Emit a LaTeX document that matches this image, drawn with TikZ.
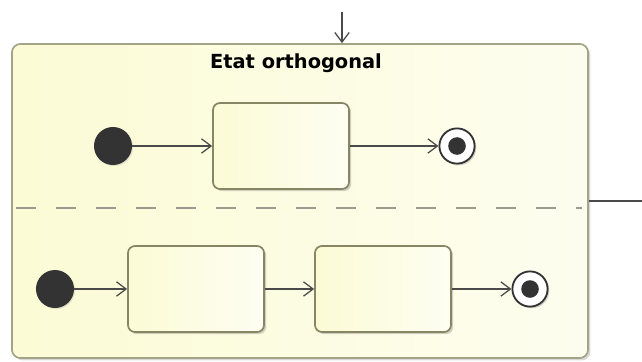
\documentclass[tikz,border=0pt]{standalone}
\usepackage{fontspec}
\setsansfont{DejaVu Sans}
\usepackage{tikz}
\usetikzlibrary{
  arrows.meta,
  positioning,
  shadows
}
\definecolor{StateFill}{HTML}{FAFACB}
\definecolor{StateLine}{HTML}{868664}
\definecolor{RegionLine}{HTML}{A3A385}
\definecolor{PseudoDark}{HTML}{333333}
\definecolor{WireGray}{HTML}{4A4A4A}
\definecolor{DashGray}{HTML}{9A9A8E}

\begin{document}
\begin{tikzpicture}[
  x=0.025cm, y=-0.025cm,
  font=\sffamily,
  >={Straight Barb[length=2.4mm,width=3.6mm]},
  composite/.style={
    rounded corners=6pt,
    minimum width=14.4cm,
    minimum height=7.85cm,
    draw=RegionLine,
    line width=1.2pt,
    left color=StateFill!80,
    right color=StateFill!30,
    drop shadow={shadow xshift=1.6pt,shadow yshift=-1.6pt,opacity=0.3}
  },
  state/.style={
    rounded corners=5pt,
    minimum width=3.4cm,
    minimum height=2.15cm,
    draw=StateLine,
    line width=1.2pt,
    left color=StateFill!80,
    right color=StateFill!25,
    drop shadow={shadow xshift=1.5pt,shadow yshift=-1.5pt,opacity=0.35}
  },
  initial/.style={
    circle,
    minimum size=0.95cm,
    inner sep=0pt,
    fill=PseudoDark,
    drop shadow={shadow xshift=0.8pt,shadow yshift=-0.8pt,opacity=0.2}
  },
  final/.style={
    circle,
    minimum size=0.88cm,
    inner sep=0pt,
    draw=PseudoDark,
    line width=1.3pt,
    fill=white,
    drop shadow={shadow xshift=1.2pt,shadow yshift=-1.2pt,opacity=0.35},
    path picture={\fill[PseudoDark] (path picture bounding box.center) circle (0.22cm);}
  },
  flow/.style={->,draw=WireGray,line width=0.9pt},
  wire/.style={draw=WireGray,line width=0.9pt},
  region/.style={draw=DashGray,line width=1.2pt,dash pattern=on 0.5cm off 0.5cm},
  title/.style={font=\fontsize{13.8}{16}\selectfont\sffamily\bfseries,text=black}
]
\useasboundingbox (0,0) rectangle (642,361);

\node[composite] (ortho) at (300,201) {};
\node[title] (name) at (296,63) {Etat orthogonal};

% upper region
\node[initial] (initA) at (113,146) {};
\node[state] (stateA) at (281,146) {};
\node[final] (finalA) at (457,146) {};

% lower region
\node[initial] (initB) at (55,289) {};
\node[state] (stateB) at (196,289) {};
\node[state] (stateC) at (383,289) {};
\node[final] (finalB) at (530,289) {};

\coordinate (divL) at (16,208);
\coordinate (divR) at (582,208);
\draw[region] (divL) -- (divR);

\coordinate (entry) at (342,12);
\coordinate (exit) at (642,201);
\draw[flow] (entry) -- (entry |- ortho.north);
\draw[wire] (ortho.east) -- (exit);

\draw[flow] (initA) -- (stateA);
\draw[flow] (stateA) -- (finalA);
\draw[flow] (initB) -- (stateB);
\draw[flow] (stateB) -- (stateC);
\draw[flow] (stateC) -- (finalB);
\end{tikzpicture}
\end{document}
